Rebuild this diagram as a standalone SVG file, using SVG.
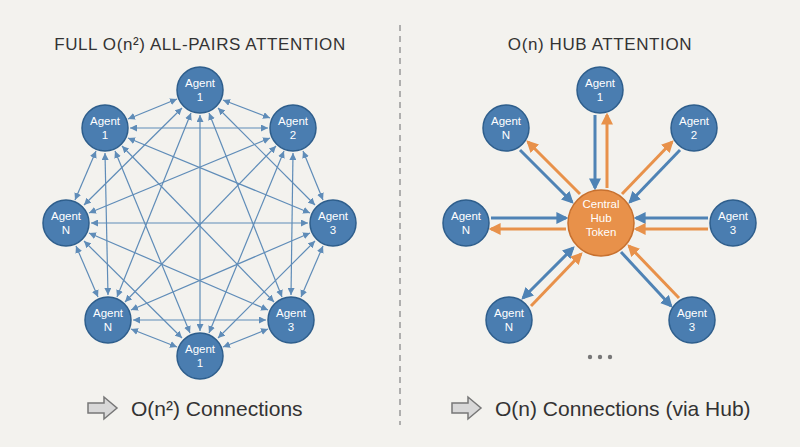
<svg xmlns="http://www.w3.org/2000/svg" width="800" height="447" viewBox="0 0 800 447">
<style>
.n{fill:#4a7db0;stroke:#2e5e8c;stroke-width:1.5}
.t{font-family:"Liberation Sans",Arial,sans-serif;font-size:11.5px;fill:#fff;text-anchor:middle}
.ttl{font-family:"Liberation Sans",Arial,sans-serif;font-size:17px;fill:#333;text-anchor:middle;letter-spacing:0.6px}
.bt{font-family:"Liberation Sans",Arial,sans-serif;font-size:21px;fill:#333}
.l{stroke:#5f8cb8;stroke-width:1.2;fill:none;marker-start:url(#as);marker-end:url(#ae)}
.b{stroke:#4f83b5;stroke-width:3;fill:none}
.o{stroke:#e8914a;stroke-width:3;fill:none}
</style>
<defs>
<marker id="ae" viewBox="0 0 10 10" refX="10" refY="5" markerWidth="7" markerHeight="7" markerUnits="userSpaceOnUse" orient="auto"><path d="M0,0L10,5L0,10z" fill="#5f8cb8"/></marker>
<marker id="as" viewBox="0 0 10 10" refX="0" refY="5" markerWidth="7" markerHeight="7" markerUnits="userSpaceOnUse" orient="auto"><path d="M10,0L0,5L10,10z" fill="#5f8cb8"/></marker>
<marker id="be" viewBox="0 0 10 10" refX="8" refY="5" markerWidth="12" markerHeight="12" markerUnits="userSpaceOnUse" orient="auto"><path d="M0,0L10,5L0,10z" fill="#4f83b5"/></marker>
<marker id="bs" viewBox="0 0 10 10" refX="2" refY="5" markerWidth="12" markerHeight="12" markerUnits="userSpaceOnUse" orient="auto"><path d="M10,0L0,5L10,10z" fill="#4f83b5"/></marker>
<marker id="oe" viewBox="0 0 10 10" refX="8" refY="5" markerWidth="12" markerHeight="12" markerUnits="userSpaceOnUse" orient="auto"><path d="M0,0L10,5L0,10z" fill="#e8914a"/></marker>
</defs>
<rect width="800" height="447" fill="#f3f2ee"/>
<line x1="400" y1="25" x2="400" y2="425" stroke="#999" stroke-width="1.5" stroke-dasharray="6,5"/>
<text class="ttl" x="200" y="50">FULL O(n²) ALL-PAIRS ATTENTION</text>
<text class="ttl" x="600" y="50">O(n) HUB ATTENTION</text>
<g id="connectors">
<line class="l" x1="223" y1="100" x2="270" y2="118"/>
<line class="l" x1="218" y1="108" x2="315" y2="205"/>
<line class="l" x1="209" y1="113" x2="282" y2="297"/>
<line class="l" x1="200" y1="115" x2="200" y2="331"/>
<line class="l" x1="191" y1="113" x2="117" y2="297"/>
<line class="l" x1="182" y1="108" x2="84" y2="205"/>
<line class="l" x1="177" y1="99" x2="128" y2="119"/>
<line class="l" x1="303" y1="151" x2="323" y2="200"/>
<line class="l" x1="293" y1="153" x2="291" y2="295"/>
<line class="l" x1="284" y1="151" x2="209" y2="333"/>
<line class="l" x1="276" y1="146" x2="125" y2="302"/>
<line class="l" x1="270" y1="138" x2="89" y2="213"/>
<line class="l" x1="268" y1="128" x2="130" y2="128"/>
<line class="l" x1="323" y1="246" x2="301" y2="297"/>
<line class="l" x1="315" y1="241" x2="218" y2="338"/>
<line class="l" x1="310" y1="233" x2="131" y2="310"/>
<line class="l" x1="308" y1="223" x2="91" y2="223"/>
<line class="l" x1="310" y1="213" x2="128" y2="138"/>
<line class="l" x1="268" y1="329" x2="223" y2="347"/>
<line class="l" x1="266" y1="320" x2="133" y2="320"/>
<line class="l" x1="268" y1="310" x2="89" y2="233"/>
<line class="l" x1="274" y1="302" x2="122" y2="146"/>
<line class="l" x1="177" y1="347" x2="131" y2="329"/>
<line class="l" x1="182" y1="338" x2="84" y2="241"/>
<line class="l" x1="190" y1="333" x2="115" y2="151"/>
<line class="l" x1="98" y1="297" x2="76" y2="246"/>
<line class="l" x1="108" y1="295" x2="105" y2="153"/>
<line class="l" x1="75" y1="200" x2="96" y2="151"/>
<line class="b" x1="595" y1="115" x2="595" y2="188" marker-end="url(#be)"/>
<line class="o" x1="607" y1="188" x2="607" y2="115" marker-end="url(#oe)"/>
<line class="b" x1="520" y1="150" x2="572" y2="202" marker-end="url(#be)"/>
<line class="o" x1="580" y1="194" x2="528" y2="142" marker-end="url(#oe)"/>
<line class="b" x1="680" y1="150" x2="630" y2="202" marker-end="url(#be)"/>
<line class="o" x1="622" y1="194" x2="672" y2="142" marker-end="url(#oe)"/>
<line class="b" x1="491" y1="218" x2="566" y2="218" marker-end="url(#be)"/>
<line class="o" x1="566" y1="229" x2="491" y2="229" marker-end="url(#oe)"/>
<line class="b" x1="708" y1="218" x2="636" y2="218" marker-end="url(#be)"/>
<line class="o" x1="708" y1="229" x2="636" y2="229" marker-end="url(#oe)"/>
<line class="b" x1="573" y1="248" x2="523" y2="298" marker-start="url(#bs)" marker-end="url(#be)"/>
<line class="o" x1="531" y1="306" x2="581" y2="254" marker-end="url(#oe)"/>
<line class="b" x1="621" y1="252" x2="671" y2="306" marker-end="url(#be)"/>
<line class="o" x1="679" y1="298" x2="629" y2="246" marker-end="url(#oe)"/>
</g>
<g id="l1"><circle class="n" cx="200" cy="90" r="23"/><text class="t" x="200" y="87">Agent</text><text class="t" x="200" y="101">1</text></g>
<g id="l2"><circle class="n" cx="293" cy="128" r="23"/><text class="t" x="293" y="125">Agent</text><text class="t" x="293" y="139">2</text></g>
<g id="l3"><circle class="n" cx="333" cy="223" r="23"/><text class="t" x="333" y="220">Agent</text><text class="t" x="333" y="234">3</text></g>
<g id="l4"><circle class="n" cx="291" cy="320" r="23"/><text class="t" x="291" y="317">Agent</text><text class="t" x="291" y="331">3</text></g>
<g id="l5"><circle class="n" cx="200" cy="356" r="23"/><text class="t" x="200" y="353">Agent</text><text class="t" x="200" y="367">1</text></g>
<g id="l6"><circle class="n" cx="108" cy="320" r="23"/><text class="t" x="108" y="317">Agent</text><text class="t" x="108" y="331">N</text></g>
<g id="l7"><circle class="n" cx="66" cy="223" r="23"/><text class="t" x="66" y="220">Agent</text><text class="t" x="66" y="234">N</text></g>
<g id="l8"><circle class="n" cx="105" cy="128" r="23"/><text class="t" x="105" y="125">Agent</text><text class="t" x="105" y="139">1</text></g>
<g id="hub"><circle cx="601" cy="223" r="33" fill="#e8914a" stroke="#c7702e" stroke-width="1.5"/><text class="t" x="601" y="208">Central</text><text class="t" x="601" y="222">Hub</text><text class="t" x="601" y="236">Token</text></g>
<g id="r1"><circle class="n" cx="600" cy="90" r="23"/><text class="t" x="600" y="87">Agent</text><text class="t" x="600" y="101">1</text></g>
<g id="r2"><circle class="n" cx="694" cy="128" r="23"/><text class="t" x="694" y="125">Agent</text><text class="t" x="694" y="139">2</text></g>
<g id="r3"><circle class="n" cx="733" cy="223" r="23"/><text class="t" x="733" y="220">Agent</text><text class="t" x="733" y="234">3</text></g>
<g id="r4"><circle class="n" cx="692" cy="320" r="23"/><text class="t" x="692" y="317">Agent</text><text class="t" x="692" y="331">3</text></g>
<g id="r5"><circle class="n" cx="509" cy="320" r="23"/><text class="t" x="509" y="317">Agent</text><text class="t" x="509" y="331">N</text></g>
<g id="r6"><circle class="n" cx="466" cy="223" r="23"/><text class="t" x="466" y="220">Agent</text><text class="t" x="466" y="234">N</text></g>
<g id="r7"><circle class="n" cx="506" cy="128" r="23"/><text class="t" x="506" y="125">Agent</text><text class="t" x="506" y="139">N</text></g>
<g id="dots" fill="#777"><circle cx="590" cy="357" r="2.2"/><circle cx="600" cy="357" r="2.2"/><circle cx="610" cy="357" r="2.2"/></g>
<g id="footer">
<path d="M88,403h16v-6l13,11l-13,11v-6h-16z" fill="#d8d8d8" stroke="#777" stroke-width="1.5"/>
<text class="bt" x="131" y="416">O(n²) Connections</text>
<path d="M452,403h16v-6l13,11l-13,11v-6h-16z" fill="#d8d8d8" stroke="#777" stroke-width="1.5"/>
<text class="bt" x="495" y="416">O(n) Connections (via Hub)</text>
</g>
</svg>
